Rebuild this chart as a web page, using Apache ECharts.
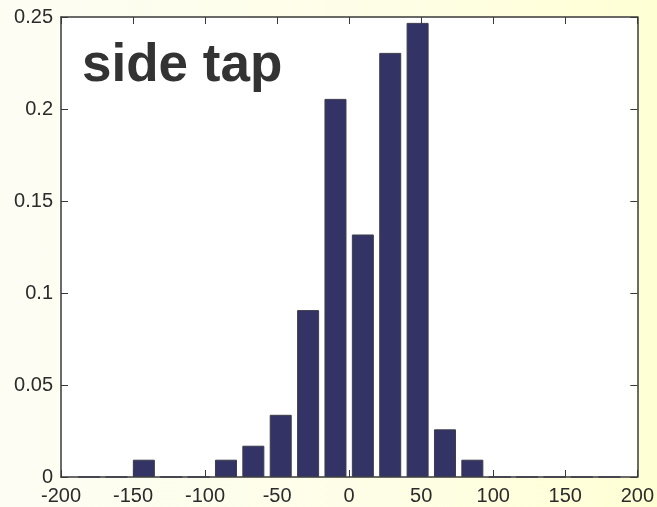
<!DOCTYPE html>
<html>
<head>
<meta charset="utf-8">
<script src="https://cdn.jsdelivr.net/npm/echarts@6/dist/echarts.min.js"></script>
<style>
  html, body { margin: 0; padding: 0; }
  #chart {
    width: 657px; height: 507px;
    background: linear-gradient(to right, #fdfdf4 0%, #fefee6 60%, #ffffd4 100%);
  }
</style>
</head>
<body>
<div id="chart"></div>
<script>
// Histogram of side-tap offsets (relative frequency per bin)
const binCenters = [-180.5, -161.5, -142.5, -123.5, -104.5, -85.5, -66.5, -47.5, -28.5, -9.5,
                    9.5, 28.5, 47.5, 66.5, 85.5, 104.5, 123.5, 142.5, 161.5, 180.5];
const frequencies = [0, 0, 0.0094, 0, 0, 0.0094, 0.0170, 0.0338, 0.0907, 0.2055,
                     0.1318, 0.2305, 0.2468, 0.0259, 0.0094, 0, 0, 0, 0, 0];
const xTicks = { min: -200, max: 200, step: 50 };
const yTicks = { min: 0, max: 0.25, step: 0.05 };
const titleText = 'side tap';

const FONT = '"Liberation Sans", Arial, Helvetica, sans-serif';
const AXIS_COLOR = '#3a3a3a';
const LABEL_COLOR = '#2b2b2b';

const chart = echarts.init(document.getElementById('chart'), null, { renderer: 'canvas' });

const tickStyle = { show: true, inside: true, length: 7, lineStyle: { color: AXIS_COLOR, width: 1 } };
const lineStyle = { show: true, onZero: false, lineStyle: { color: AXIS_COLOR, width: 1.5 } };

chart.setOption({
  backgroundColor: 'transparent',
  animation: false,
  grid: {
    left: 61, top: 17, right: 17, bottom: 30,
    show: true, backgroundColor: '#ffffff', borderWidth: 0
  },
  xAxis: [
    {
      type: 'value', position: 'bottom',
      min: xTicks.min, max: xTicks.max, interval: xTicks.step,
      axisLine: lineStyle, axisTick: tickStyle, splitLine: { show: false },
      axisLabel: { color: LABEL_COLOR, fontSize: 20, fontFamily: FONT, margin: 9, showMaxLabel: true, showMinLabel: true }
    },
    {
      type: 'value', position: 'top',
      min: xTicks.min, max: xTicks.max, interval: xTicks.step,
      axisLine: lineStyle, axisTick: tickStyle, splitLine: { show: false },
      axisLabel: { show: false }
    }
  ],
  yAxis: [
    {
      type: 'value', position: 'left',
      min: yTicks.min, max: yTicks.max, interval: yTicks.step,
      axisLine: lineStyle, axisTick: tickStyle, splitLine: { show: false },
      axisLabel: { color: LABEL_COLOR, fontSize: 20, fontFamily: FONT, margin: 8 }
    },
    {
      type: 'value', position: 'right',
      min: yTicks.min, max: yTicks.max, interval: yTicks.step,
      axisLine: lineStyle, axisTick: tickStyle, splitLine: { show: false },
      axisLabel: { show: false }
    }
  ],
  series: [{
    type: 'bar',
    xAxisIndex: 0, yAxisIndex: 0,
    barWidth: 22,
    data: binCenters.map((c, i) => [c, frequencies[i]]),
    itemStyle: { color: '#333366', borderColor: '#3c3c4a', borderWidth: 1 },
    z: 1
  }],
  graphic: [{
    type: 'text',
    left: 82, top: 40,
    style: {
      text: titleText,
      font: 'bold 53px ' + FONT,
      fill: '#333333'
    }
  }]
});
</script>
</body>
</html>
